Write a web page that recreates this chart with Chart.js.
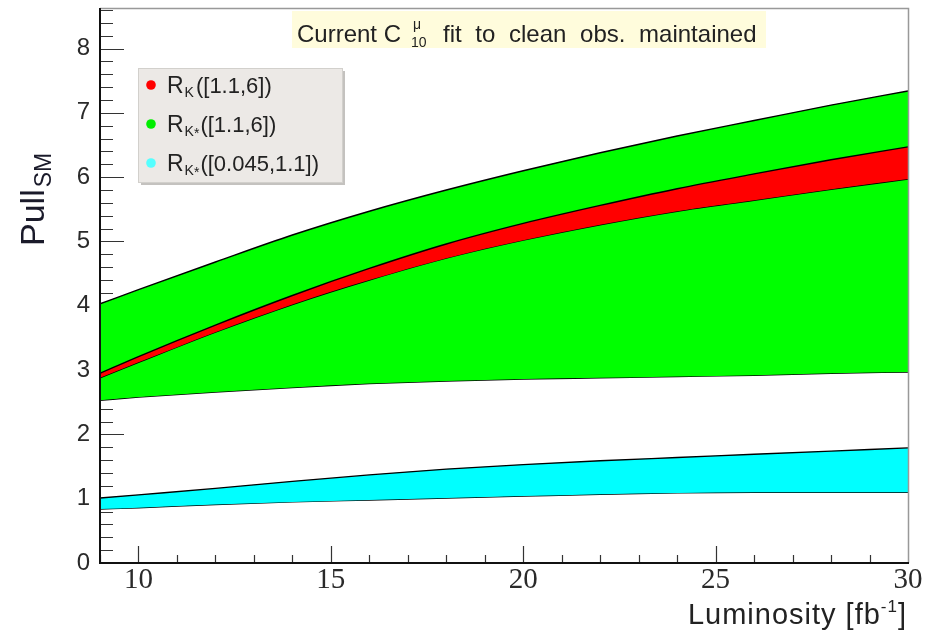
<!DOCTYPE html>
<html>
<head>
<meta charset="utf-8">
<script src="https://cdn.jsdelivr.net/npm/chart.js@4.4.0/dist/chart.umd.min.js"></script>
<style>
  html, body { margin: 0; padding: 0; background: #fff; }
  #wrap { width: 936px; height: 633px; }
</style>
</head>
<body>
<div id="wrap"><canvas id="pull-chart" width="936" height="633"></canvas></div>
<script>
// Luminosity points (fb^-1) the bands are read at
const luminosity = [9, 10, 12, 14, 16, 18, 20, 22, 24, 26, 28, 30];

// R_K([1.1,6]) band (red)
const rkUpper = [2.95, 3.21, 3.70, 4.16, 4.58, 4.96, 5.28, 5.56, 5.82, 6.05, 6.27, 6.47];
const rkLower = [2.88, 3.12, 3.59, 4.02, 4.40, 4.74, 5.02, 5.26, 5.47, 5.64, 5.81, 5.97];

// R_K*([1.1,6]) band (green)
const rksUpper = [4.03, 4.25, 4.68, 5.10, 5.47, 5.80, 6.10, 6.38, 6.64, 6.88, 7.12, 7.34];
const rksLower = [2.53, 2.58, 2.66, 2.73, 2.79, 2.83, 2.86, 2.88, 2.90, 2.92, 2.95, 2.97];

// R_K*([0.045,1.1]) band (cyan)
const rksLowUpper = [1.01, 1.06, 1.16, 1.27, 1.37, 1.46, 1.53, 1.59, 1.64, 1.69, 1.74, 1.79];
const rksLowLower = [0.84, 0.86, 0.91, 0.95, 0.98, 1.01, 1.04, 1.07, 1.09, 1.10, 1.10, 1.10];

// Axis tick labels
const xTicks = [10, 15, 20, 25, 30];
const yTicks = [0, 1, 2, 3, 4, 5, 6, 7, 8];

const SANS = "'Liberation Sans', Arial, sans-serif";
const SERIF = "'Liberation Serif', 'Times New Roman', serif";
const TEXT = '#222';

// one edge of a band
function bandLine(values, color, fill) {
    return {
        data: luminosity.map((x, i) => ({ x: x, y: values[i] })),
        borderColor: '#000',
        borderWidth: 1.4,
        backgroundColor: color,
        fill: fill,
        pointRadius: 0,
        cubicInterpolationMode: 'monotone'
    };
}

// draw text made of pieces (sub/superscripts)
function drawRich(ctx, x, y, parts) {
    parts.forEach(p => {
        ctx.font = p.font;
        ctx.fillText(p.t, x, y + (p.dy || 0));
        x += ctx.measureText(p.t).width + (p.gap || 0);
    });
    return x;
}

// ROOT style ticks pointing into the frame, drawn under the bands
const innerTicks = {
    id: 'innerTicks',
    beforeDatasetsDraw(chart) {
        const ctx = chart.ctx;
        const a = chart.chartArea;
        const xs = chart.scales.x, ys = chart.scales.y;
        ctx.save();
        ctx.strokeStyle = '#333';
        ctx.lineWidth = 1.2;
        ctx.beginPath();
        for (let k = 1; k * 0.2 <= ys.max; k++) {
            const py = Math.round(ys.getPixelForValue(k / 5)) + 0.5;
            const len = k % 5 === 0 ? 24 : 13;
            ctx.moveTo(a.left, py);
            ctx.lineTo(a.left + len, py);
        }
        for (let v = Math.ceil(xs.min); v < xs.max; v++) {
            const px = Math.round(xs.getPixelForValue(v)) + 0.5;
            const len = v % 5 === 0 ? 17 : 8;
            ctx.moveTo(px, a.bottom);
            ctx.lineTo(px, a.bottom - len);
        }
        ctx.stroke();
        ctx.restore();
    }
};

// frame, title box, legend and axis titles
const decorations = {
    id: 'decorations',
    afterDraw(chart) {
        const ctx = chart.ctx;
        const a = chart.chartArea;
        ctx.save();

        // frame
        ctx.lineWidth = 1.5;
        ctx.strokeStyle = '#999';
        ctx.beginPath();
        ctx.moveTo(a.left, a.top + 0.5);
        ctx.lineTo(a.right + 0.5, a.top + 0.5);
        ctx.lineTo(a.right + 0.5, a.bottom);
        ctx.stroke();
        ctx.strokeStyle = '#111';
        ctx.lineWidth = 2;
        ctx.beginPath();
        ctx.moveTo(a.left, a.top);
        ctx.lineTo(a.left, a.bottom);
        ctx.lineTo(a.right + 1, a.bottom);
        ctx.stroke();

        // title box
        ctx.fillStyle = '#fffcdc';
        ctx.fillRect(292, 11, 474, 37);
        ctx.fillStyle = TEXT;
        ctx.textBaseline = 'alphabetic';
        ctx.textAlign = 'left';
        ctx.font = '24px ' + SANS;
        ctx.fillText('Current C', 297, 42);
        ctx.font = '14px ' + SANS;
        ctx.fillText('\u03bc', 413, 29);
        ctx.fillText('10', 411, 47);
        ctx.font = '24px ' + SANS;
        ctx.wordSpacing = '7px';
        ctx.fillText('fit to clean obs. maintained', 443, 42);
        ctx.wordSpacing = '0px';

        // legend box
        ctx.fillStyle = '#c4c2bf';
        ctx.fillRect(141, 71, 204, 114);
        ctx.fillStyle = '#ece9e6';
        ctx.fillRect(138, 68, 204, 114);
        ctx.strokeStyle = '#d2d0cc';
        ctx.lineWidth = 1;
        ctx.strokeRect(138.5, 68.5, 204, 114);

        const entries = [
            { color: '#ff0000', star: false, range: '([1.1,6])', y: 93 },
            { color: '#00ee00', star: true, range: '([1.1,6])', y: 132 },
            { color: '#55ffff', star: true, range: '([0.045,1.1])', y: 171 }
        ];
        entries.forEach(e => {
            ctx.fillStyle = e.color;
            ctx.beginPath();
            ctx.arc(151, e.y - 8, 4.8, 0, Math.PI * 2);
            ctx.fill();
            ctx.fillStyle = TEXT;
            const parts = [
                { t: 'R', font: '23px ' + SANS, gap: 1 },
                { t: 'K', font: '14px ' + SANS, dy: 4 }
            ];
            if (e.star) parts.push({ t: '*', font: '14px ' + SANS, dy: 6, gap: 1 });
            else parts.push({ t: '', font: '14px ' + SANS, gap: 2 });
            parts.push({ t: e.range, font: '22px ' + SANS });
            drawRich(ctx, 167, e.y, parts);
        });

        // y axis title: Pull_SM
        ctx.save();
        ctx.translate(44, 246);
        ctx.rotate(-Math.PI / 2);
        ctx.fillStyle = '#1a1a2a';
        drawRich(ctx, 0, 0, [
            { t: 'Pull', font: '34px ' + SANS, gap: 2 },
            { t: 'SM', font: '23px ' + SANS, dy: 7 }
        ]);
        ctx.restore();

        // x axis title: Luminosity [fb^-1]
        ctx.fillStyle = TEXT;
        ctx.letterSpacing = '1px';
        const main = 'Luminosity [fb';
        ctx.font = '29px ' + SANS;
        const w1 = ctx.measureText(main).width;
        ctx.font = '17px ' + SANS;
        const w2 = ctx.measureText('-1').width;
        ctx.font = '29px ' + SANS;
        const w3 = ctx.measureText(']').width;
        const x0 = 907 - (w1 + w2 + w3);
        drawRich(ctx, x0, 624, [
            { t: main, font: '29px ' + SANS },
            { t: '-1', font: '17px ' + SANS, dy: -12 },
            { t: ']', font: '29px ' + SANS }
        ]);
        ctx.letterSpacing = '0px';

        ctx.restore();
    }
};

new Chart(document.getElementById('pull-chart'), {
    type: 'line',
    data: {
        datasets: [
            bandLine(rkUpper, '#ff0000', '+1'),
            bandLine(rkLower, '#ff0000', false),
            bandLine(rksUpper, '#00ff00', '+1'),
            bandLine(rksLower, '#00ff00', false),
            bandLine(rksLowUpper, '#00ffff', '+1'),
            bandLine(rksLowLower, '#00ffff', false)
        ]
    },
    options: {
        responsive: false,
        animation: false,
        layout: { padding: { left: 0, right: 28, top: 8, bottom: 0 } },
        plugins: {
            legend: { display: false },
            tooltip: { enabled: false }
        },
        scales: {
            x: {
                type: 'linear',
                min: 9,
                max: 30,
                grid: { display: false, drawTicks: false },
                border: { display: false },
                afterBuildTicks: scale => { scale.ticks = xTicks.map(v => ({ value: v })); },
                afterFit: scale => {
                    scale.height = 70;
                    scale.paddingLeft = 0;
                    scale.paddingRight = 0;
                },
                ticks: {
                    maxRotation: 0,
                    padding: 0,
                    color: '#2a2a2a',
                    font: { family: SERIF, size: 29 }
                }
            },
            y: {
                min: 0,
                max: 8.63,
                grid: { display: false, drawTicks: false },
                border: { display: false },
                afterBuildTicks: scale => { scale.ticks = yTicks.map(v => ({ value: v })); },
                afterFit: scale => {
                    scale.width = 100;
                    scale.paddingTop = 0;
                    scale.paddingBottom = 0;
                },
                ticks: {
                    padding: 10,
                    color: '#2a2a2a',
                    font: { family: SANS, size: 24 }
                }
            }
        }
    },
    plugins: [innerTicks, decorations]
});
</script>
</body>
</html>
